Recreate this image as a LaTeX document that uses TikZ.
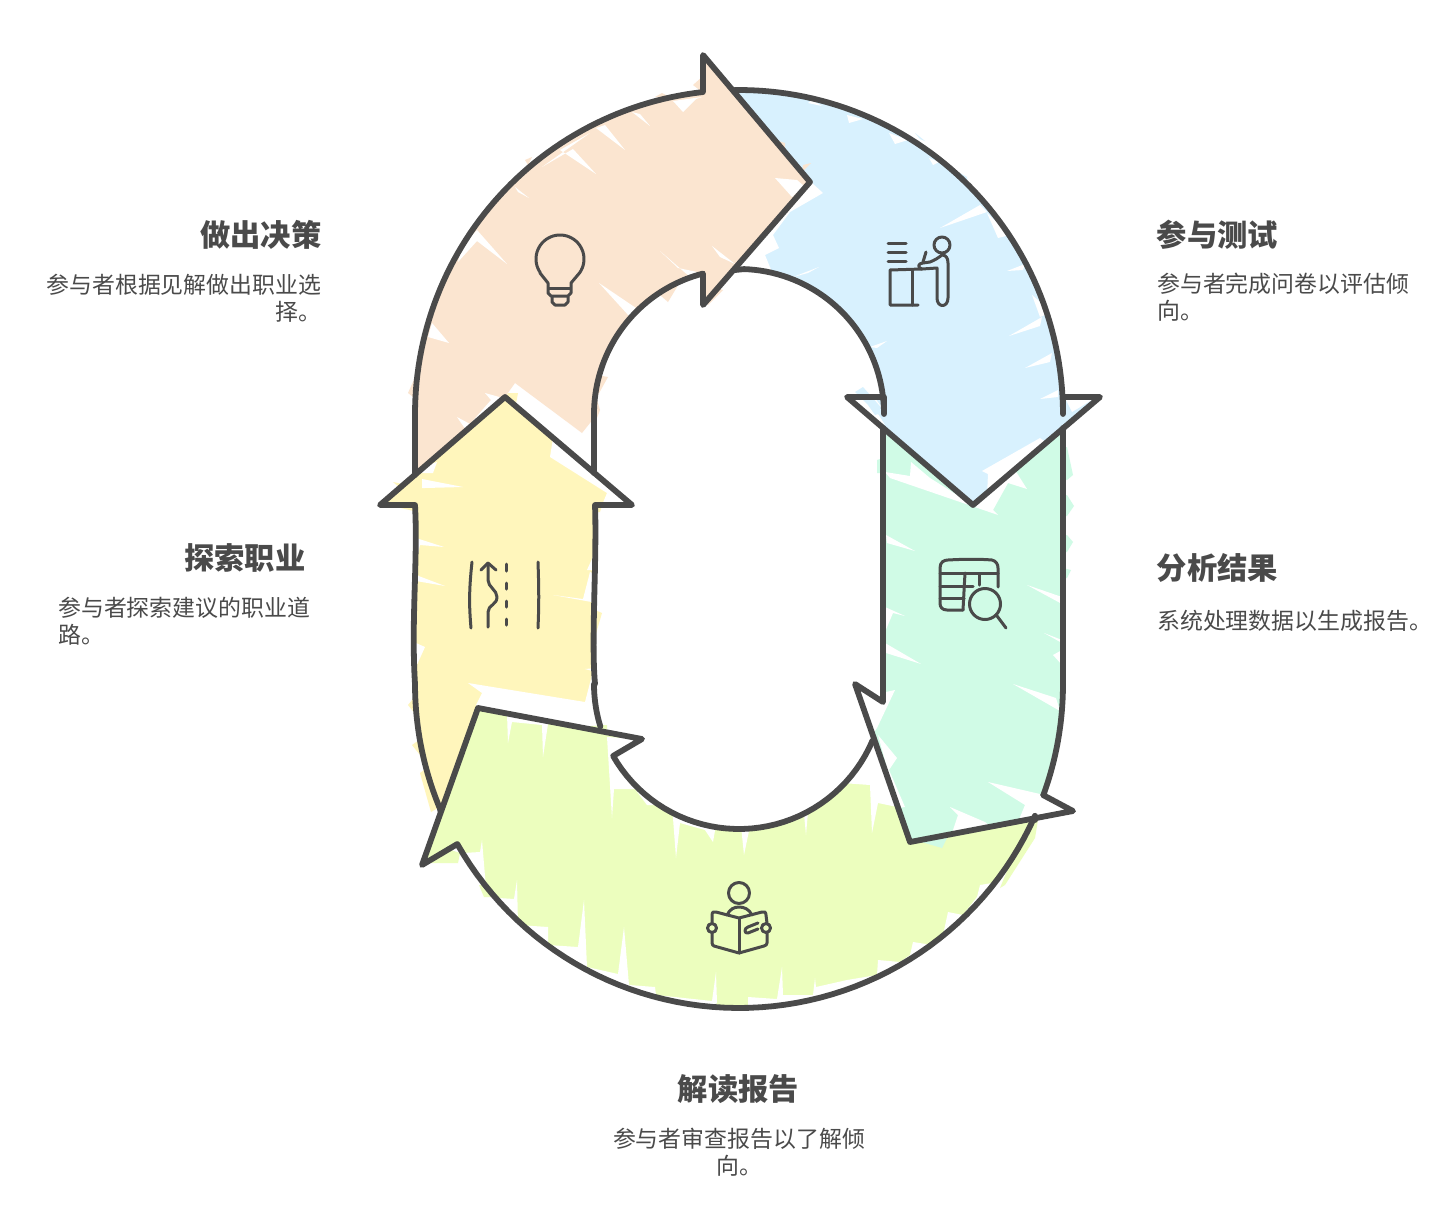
\documentclass[tikz,border=0pt]{standalone}
\usepackage{fontspec}
\newfontfamily\cjk{Noto Sans CJK SC}
\definecolor{cO}{HTML}{FBE5D0}
\definecolor{cB}{HTML}{D8F1FE}
\definecolor{cT}{HTML}{D0FBE6}
\definecolor{cG}{HTML}{ECFEBE}
\definecolor{cY}{HTML}{FFF6BC}
\definecolor{ink}{HTML}{4A4A4A}
% arcs of the stadium
\newcommand{\oT}[2]{-- plot[domain=#1:#2,samples=60] ({739+324*cos(\x)},{414-324*sin(\x)})}
\newcommand{\iT}[2]{-- plot[domain=#1:#2,samples=40] ({739+145*cos(\x)},{414-145*sin(\x)})}
\newcommand{\oB}[2]{-- plot[domain=#1:#2,samples=60] ({739+324*cos(\x)},{684-324*sin(\x)})}
\newcommand{\iB}[2]{-- plot[domain=#1:#2,samples=40] ({739+145*cos(\x)},{684-145*sin(\x)})}
\newcommand{\pat}[2]{\fill[#1] plot coordinates {#2} -- cycle;}
\tikzset{
  outline/.style={draw=ink,line width=5.8pt,line join=round,line cap=round},
  icon/.style={draw=ink,line width=3pt,line join=round,line cap=round},
  ttl/.style={inner sep=0pt,text=ink,font=\cjk\bfseries\fontsize{30.3}{34}\selectfont},
  bodytxt/.style={inner sep=0pt,text=ink,font=\cjk\fontsize{22.9}{27}\selectfont},
}
\begin{document}
\begin{tikzpicture}[x=1pt,y=-1pt]
\useasboundingbox (0,0) rectangle (1452,1232);
\fill[white] (0,0) rectangle (1452,1232);
% ---------- orange fill
\fill[cO] (415,475) \oT{180}{96.4} -- (703,55) -- (810,182) -- (703,305) -- (703,275) \iT{104.4}{180} -- (594,418) -- (582,433) -- (515,383) -- (505,397) -- cycle;
\pat{white}{(673,101) (683,112) (696,99) (702,97)}
\pat{white}{(632,112) (650,126) (640,114)}
\pat{white}{(596,128) (625,150) (605,125)}
\pat{white}{(542,167) (573,149) (596,174) (560,150) (590,133)}
\pat{white}{(477,230) (507,264) (477,241) (458,262) (462,245)}
\pat{white}{(515,187) (529,198) (518,192)}
\pat{white}{(432,323) (449,343) (428,337)}
\pat{white}{(599,283) (636,308) (629,316)}
\pat{white}{(660,251) (690,277) (702,273) (678,268)}
\pat{white}{(712,246) (735,264) (720,257)}
\pat{white}{(775,178) (792,197) (804,186) (797,180)}
\pat{white}{(485,393) (491,400) (470,424) (457,417) (466,430) (503,398)}
\pat{cO}{(693,85) (702,77) (702,92)}
\pat{cO}{(408,393) (417,373) (417,400)}
\pat{cO}{(597,375) (608,377) (598,395)}
\pat{cO}{(597,400) (600,410) (597,418)}
\pat{cO}{(660,295) (680,282) (668,302)}
\pat{cO}{(705,285) (723,290) (708,305)}
\pat{cO}{(655,97) (662,93) (670,97)}
\pat{cO}{(525,160) (532,157) (528,165)}
% ---------- yellow fill
\fill[cY] (505,397) -- (632,505) -- (595,505) -- (595,684) \iB{180}{199} -- (478,708) -- (440,810) \oB{202.9}{180} -- (415,505) -- (380,505) -- cycle;
\pat{white}{(553,438) (550,457) (607,493) (602,505) (630,505) (620,488)}
\pat{white}{(422,479) (463,487) (425,488) (422,488)}
\pat{white}{(418,473) (433,473) (437,462) (420,468)}
\pat{white}{(416,538) (444,547) (420,545) (416,563)}
\pat{white}{(416,575) (445,586) (416,581)}
\pat{white}{(416,643) (425,647) (416,667)}
\pat{white}{(596,550) (587,570) (596,570)}
\pat{white}{(553,595) (583,599) (590,572) (597,575) (597,603)}
\pat{white}{(585,669) (596,672) (596,668)}
\pat{white}{(468,683) (585,702) (592,675) (600,680) (604,733) (478,708) (476,705) (482,693)}
\pat{cY}{(508,393) (518,393) (513,420) (495,420)}
\pat{cY}{(595,505) (602,505) (600,512) (595,512)}
\pat{cY}{(393,482) (422,488) (405,492)}
\pat{cY}{(388,505) (418,505) (418,512)}
\pat{cY}{(595,610) (602,613) (595,637)}
\pat{cY}{(408,705) (416,695) (416,715)}
\pat{cY}{(412,745) (422,738) (420,755)}
\pat{cY}{(420,773) (424,770) (438,808) (431,812)}
% ---------- green fill
\fill[cG] (1035,820) \oB{336}{209.6} -- (422,865) -- (478,708) -- (642,739) -- (613,756) \iB{209.7}{337} -- (910,842) -- cycle;
\pat{white}{(507,714) (508,743) (512,722) (542,725) (543,757) (548,724) (545,720)}
\pat{white}{(607,737) (612,818) (614,789) (635,789) (647,805) (672,805) (676,858) (680,823) (705,830) (713,842) (716,825) (700,815) (680,800) (650,785) (625,765) (642,739)}
\pat{white}{(741,826) (744,855) (750,826)}
\pat{white}{(804,814) (806,835) (808,812)}
\pat{white}{(842,783) (870,785) (872,833) (878,803) (902,808) (873,738) (845,770)}
\pat{white}{(463,853) (480,852) (482,840) (486,888)}
\pat{white}{(484,897) (514,899) (517,880) (518,925) (548,927) (548,945) (578,947) (584,900) (587,967) (618,974) (624,927) (629,985) (655,987) (656,995) (712,1001) (716,972) (717,1003) (700,1012) (600,1005) (500,950) (470,900)}
\pat{white}{(748,1012) (748,997) (777,999) (782,967) (783,995) (813,995) (815,978) (816,987) (847,980) (877,975) (878,960) (900,962) (910,955) (913,942) (932,945) (943,935) (948,912) (963,915) (977,897) (980,885) (1010,880) (1000,930) (900,1015) (800,1020)}
\pat{cG}{(423,863) (458,863) (460,853) (445,848)}
\pat{cG}{(479,885) (484,897) (495,897) (490,885)}
\pat{cG}{(1000,888) (1005,885) (1035,838) (1038,820) (1028,820)}
\pat{cG}{(575,727) (607,725) (607,736)}
% ---------- teal fill
\fill[cT] (883,428) -- (973,505) -- (1063,428) -- (1063,684) \oB{0}{-20} -- (1073,811) -- (910,842) -- (855,684) -- (883,702) -- cycle;
\pat{white}{(885,472) (910,476) (911,462) (930,478) (973,505) (1015,470) (1027,489) (1008,483) (993,510) (998,515) (890,478)}
\pat{white}{(886,535) (915,551) (887,543)}
\pat{white}{(885,607) (905,616) (893,613) (885,632)}
\pat{white}{(885,643) (921,664) (886,653)}
\pat{white}{(1027,585) (1062,597) (1062,604)}
\pat{white}{(1044,633) (1062,643) (1062,640)}
\pat{white}{(1053,655) (1062,665) (1062,650)}
\pat{white}{(1013,684) (1060,711) (1056,698)}
\pat{white}{(1040,794) (1072,811) (1018,822) (1025,805) (988,782)}
\pat{white}{(950,807) (958,815) (952,833) (990,826) (985,822)}
\pat{white}{(857,688) (883,704) (886,692) (895,690) (877,728) (872,735)}
\pat{white}{(878,735) (897,758) (889,770) (905,807) (898,808)}
\pat{cT}{(1063,447) (1067,447) (1073,475) (1067,480) (1063,478)}
\pat{cT}{(1063,495) (1067,495) (1074,506) (1067,516) (1063,516)}
\pat{cT}{(1063,535) (1067,535) (1073,542) (1067,552) (1063,552)}
\pat{cT}{(1063,568) (1071,570) (1067,578) (1063,578)}
\pat{cT}{(877,460) (883,458) (883,473) (877,473)}
\pat{cT}{(918,841) (942,848) (947,838)}
% ---------- blue fill
\fill[cB] (735,90) \oT{90.7}{0} -- (1063,397) -- (1100,397) -- (973,505) -- (847,397) -- (884,397) \iT{0}{88} -- (735,270) -- (810,182) -- cycle;
\pat{white}{(808,103) (822,106) (812,100)}
\pat{white}{(847,115) (849,123) (863,119)}
\pat{white}{(889,133) (895,144) (908,140)}
\pat{white}{(929,158) (933,165) (939,162)}
\pat{white}{(940,228) (987,212) (980,205)}
\pat{white}{(987,213) (998,238) (1010,235)}
\pat{white}{(1007,271) (1025,264) (1023,270)}
\pat{white}{(1032,295) (1040,317) (1052,312)}
\pat{white}{(1009,336) (1042,317) (1040,326)}
\pat{white}{(1025,368) (1052,353) (1050,362)}
\pat{white}{(1040,399) (1058,390) (1058,397)}
\pat{white}{(793,277) (819,267) (808,273)}
\pat{white}{(870,347) (887,341) (877,348)}
\pat{white}{(812,183) (823,193) (790,212) (773,235) (779,248) (765,255) (772,272) (735,270)}
\pat{white}{(982,471) (988,474) (987,495) (1047,443) (1040,438)}
\pat{white}{(1065,398) (1072,412) (1095,398)}
\pat{white}{(852,400) (875,398) (885,412) (878,414) (885,425) (873,418)}
\pat{cB}{(855,392) (863,387) (885,412) (875,415) (868,405)}
\pat{cB}{(920,139) (925,141) (915,133)}
\pat{cB}{(967,177) (960,173) (968,185)}
% orange overflow over blue
\pat{cO}{(776,140) (785,143) (785,153)}
\pat{cO}{(803,165) (811,163) (802,172)}
% ---------- outlines
\draw[outline] (415,475) \oT{180}{96.4} -- (703,55) -- (810,182) -- (703,305) -- (703,275) \iT{104.4}{180} -- (594,473);
\draw[outline] (735,90) \oT{90.7}{0} -- (1063,397) -- (1100,397) -- (973,505) -- (847,397) -- (884,397) \iT{0}{88} -- (735,270);
\draw[outline] (883,428) -- (883,702) -- (855,684) -- (910,842) -- (1073,811) -- (1043,795) \oB{-20}{0} -- (1063,428);
\draw[outline] (1035,820) \oB{336}{209.6} -- (422,865) -- (478,708) -- (642,739) -- (613,756) \iB{209.7}{337};
\draw[outline] (440,810) \oB{202.9}{180} .. controls (411,620) and (418,560) .. (415,505) -- (380,505) -- (505,397) -- (632,505) -- (595,505) .. controls (597,560) and (591,640) .. (595,684) \iB{180}{197};
% ---------- icons
% bulb
\draw[icon] (548,293) -- (548,283) -- (540,273) -- plot[domain=215:-35,samples=40] ({560+24*cos(\x)},{259-24*sin(\x)}) -- (571,283) -- (571,293) -- (568,296) -- (551,296) -- cycle;
\draw[icon] (549,288) -- (570,288);
\draw[icon] (552,297) -- (552,302) -- (555,305) -- (565,305) -- (568,302) -- (568,297);
% desk + person
\draw[icon] (888,243) -- (906,243);
\draw[icon] (888,252) -- (906,252);
\draw[icon] (888,261) -- (906,261);
\draw[icon] (922,269) -- (890,270) -- (890,305) -- (918,305);
\draw[icon] (912,270) -- (912,305);
\draw[icon] (922,269) -- (937,268) -- (937,298) .. controls (937,308) and (948,308) .. (948,298) -- (948,263) .. controls (948,258) and (946,255) .. (942,255) .. controls (938,258) and (935,260) .. (930,262) -- (923,263) .. controls (918,263) and (917,268) .. (922,269);
\draw[icon] (926,252) -- (923,262);
\draw[icon] (942,245) circle (8);
% table + magnifier
\draw[icon] (963,610) -- (947,610) .. controls (942,610) and (940,607) .. (940,603) -- (940,568) .. controls (940,562) and (944,560) .. (948,560) .. controls (965,559) and (980,559) .. (992,560) .. controls (996,561) and (998,564) .. (998,568) -- (998,587);
\draw[icon] (940,573) -- (998,573);
\draw[icon] (940,586) -- (973,586);
\draw[icon] (940,598) -- (964,598);
\draw[icon] (965,573) -- (963,610);
\draw[icon] (979,574) -- (979,585);
\draw[icon] (985,604) circle (15.5);
\draw[icon] (997,616) -- (1006,628);
% book reader
\draw[icon] (739,893) circle (10.5);
\draw[icon] (727,915) .. controls (730,909) and (734,907) .. (739,907) .. controls (744,907) and (749,909) .. (752,915);
\draw[icon] (739,918) -- (739,953);
\draw[icon] (712,923) -- (712,915) .. controls (712,912) and (714,911) .. (716,912) -- (739,918) -- (762,912) .. controls (764,911) and (766,912) .. (766,915) -- (767,923);
\draw[icon] (712,933) -- (712,943) .. controls (712,945) and (713,945) .. (714,946) -- (739,953) -- (764,946) .. controls (766,945) and (767,945) .. (767,943) -- (767,933);
\draw[icon] (712,928) circle (4.5);
\draw[icon] (766,928) circle (4.5);
\draw[icon] (758,923) -- (748,927) .. controls (744,928) and (744,934) .. (748,933) -- (758,929);
% road
\draw[icon] (472,562) .. controls (469,590) and (469,605) .. (471,628);
\draw[icon] (538,562) .. controls (539,590) and (539,605) .. (538,628);
\draw[icon] (506,564) -- (506,571);
\draw[icon] (506,583) -- (506,589);
\draw[icon] (506,601) -- (506,607);
\draw[icon] (506,619) -- (506,625);
\draw[icon] (488,627) -- (488,612) .. controls (488,605) and (497,605) .. (497,597) .. controls (497,590) and (488,587) .. (488,580) -- (488,563);
\draw[icon] (481,570) -- (488,563) -- (496,570);
% ---------- texts
\node[ttl,anchor=east] (t1) at (321.5,235) {做出决策};
\node[bodytxt,anchor=north east,align=right] (b1) at (321.5,274) {参与者根据见解做出职业选\\择。};
\node[ttl,anchor=east] (t2) at (305.5,558) {探索职业};
\node[bodytxt,anchor=north west,align=left] (b2) at (58,597) {参与者探索建议的职业道\\路。};
\node[ttl,anchor=west] (t3) at (1156.5,235) {参与测试};
\node[bodytxt,anchor=north west,align=left] (b3) at (1157,273) {参与者完成问卷以评估倾\\向。};
\node[ttl,anchor=west] (t4) at (1156.5,568) {分析结果};
\node[bodytxt,anchor=north west,align=left] (b4) at (1157,610) {系统处理数据以生成报告。};
\node[ttl,anchor=center] (t5) at (738.5,1089) {解读报告};
\node[bodytxt,anchor=north,align=center] (b5) at (739,1128) {参与者审查报告以了解倾\\向。};
\end{tikzpicture}
\end{document}
